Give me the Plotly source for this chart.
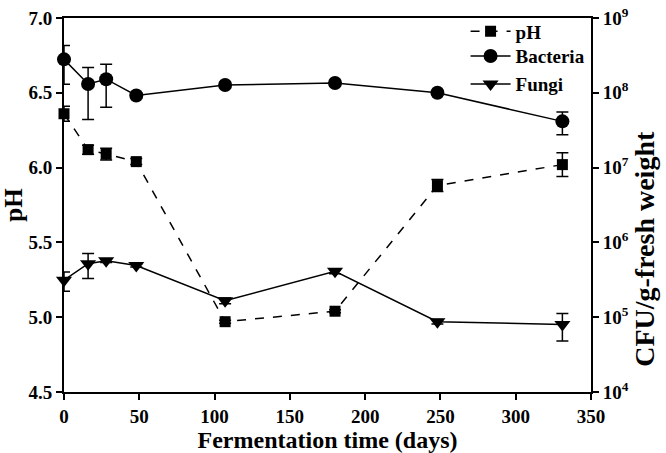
import plotly.graph_objects as go

days = [0, 16, 28, 48, 107, 180, 248, 331]
ph = [6.36, 6.12, 6.09, 6.04, 4.97, 5.04, 5.88, 6.02]
ph_err = [0.05, 0.03, 0.04, 0.02, 0.01, 0.01, 0.04, 0.08]
bacteria = [2.8e8, 1.31e8, 1.52e8, 9.2e7, 1.27e8, 1.35e8, 1.0e8, 4.15e7]
bacteria_err = [1.5e8, 0.87e8, 0.88e8, 0.08e8, 0.1e8, 0.08e8, 0.06e8, 1.4e7]
fungi = [3.13e5, 5.2e5, 5.7e5, 4.9e5, 1.66e5, 4.1e5, 8.7e4, 8.0e4]
fungi_err = [0.9e5, 1.9e5, 0.3e5, 0.2e5, 0.15e5, 0.3e5, 0.6e4, 3.2e4]

right_ticks = [1e4, 1e5, 1e6, 1e7, 1e8, 1e9]
right_ticktext = ["10<sup>4</sup>", "10<sup>5</sup>", "10<sup>6</sup>", "10<sup>7</sup>", "10<sup>8</sup>", "10<sup>9</sup>"]
left_ticks = [4.5, 5.0, 5.5, 6.0, 6.5, 7.0]
left_ticktext = ["4.5", "5.0", "5.5", "6.0", "6.5", "7.0"]
x_ticks = [0, 50, 100, 150, 200, 250, 300, 350]

FONT = "Liberation Serif"
err_style = dict(type="data", color="black", thickness=1.5, width=6)

fig = go.Figure()
fig.add_trace(go.Scatter(
    x=days, y=ph, name="pH", mode="lines+markers", cliponaxis=False, legend="legend",
    line=dict(color="black", width=1.5, dash="dash"),
    marker=dict(symbol="square", size=11, color="black"),
    error_y=dict(array=ph_err, **err_style),
))
fig.add_trace(go.Scatter(
    x=days, y=bacteria, name="Bacteria", mode="lines+markers", yaxis="y2", cliponaxis=False,
    legend="legend2",
    line=dict(color="black", width=1.5),
    marker=dict(symbol="circle", size=14, color="black"),
    error_y=dict(array=bacteria_err, **err_style),
))
fig.add_trace(go.Scatter(
    x=days, y=fungi, name="Fungi", mode="lines+markers", yaxis="y2", cliponaxis=False,
    legend="legend3",
    line=dict(color="black", width=1.5),
    marker=dict(symbol="triangle-down", size=14, color="black"),
    error_y=dict(array=fungi_err, **err_style),
))

tickfont = dict(family=FONT, size=19, color="black", weight="bold")
legfont = dict(family=FONT, size=19, color="black", weight="bold")

axis_common = dict(ticks="outside", ticklen=6, tickwidth=2, tickcolor="black",
                   showline=True, linecolor="black", linewidth=2,
                   showgrid=False, zeroline=False, tickfont=tickfont, automargin=False,
                   ticklabeloverflow="allow")

def leg(y):
    return dict(x=0.762, y=y, xanchor="left", yanchor="middle", font=legfont,
                bgcolor="rgba(0,0,0,0)", itemwidth=40)

fig.update_layout(
    width=666, height=453,
    margin=dict(l=64, r=75, t=12, b=61),
    paper_bgcolor="white", plot_bgcolor="white",
    font=dict(family=FONT, color="black"),
    showlegend=True,
    legend=leg(0.964), legend2=leg(0.898), legend3=leg(0.823),
    xaxis=dict(range=[0, 350], tickvals=x_ticks, mirror=True,
               title=dict(text="Fermentation time (days)",
                          font=dict(family=FONT, size=24, color="black", weight="bold"), standoff=2),
               **axis_common),
    yaxis=dict(range=[4.5, 7.0], tickvals=left_ticks, ticktext=left_ticktext,
               title=dict(text="pH",
                          font=dict(family=FONT, size=25, color="black", weight="bold"), standoff=4),
               **axis_common),
    yaxis2=dict(type="log", range=[4, 9], overlaying="y", side="right",
                tickvals=right_ticks, ticktext=right_ticktext,
                **axis_common),
    annotations=[dict(text="CFU/g-fresh weight", textangle=-90, showarrow=False,
                      xref="paper", yref="paper", x=1.1, y=0.382,
                      xanchor="center", yanchor="middle",
                      font=dict(family=FONT, size=28, color="black", weight="bold"))],
)
fig.write_html("out.html", config={"displayModeBar": False},
               post_script="document.body.style.margin='0';document.body.style.overflow='hidden';")
